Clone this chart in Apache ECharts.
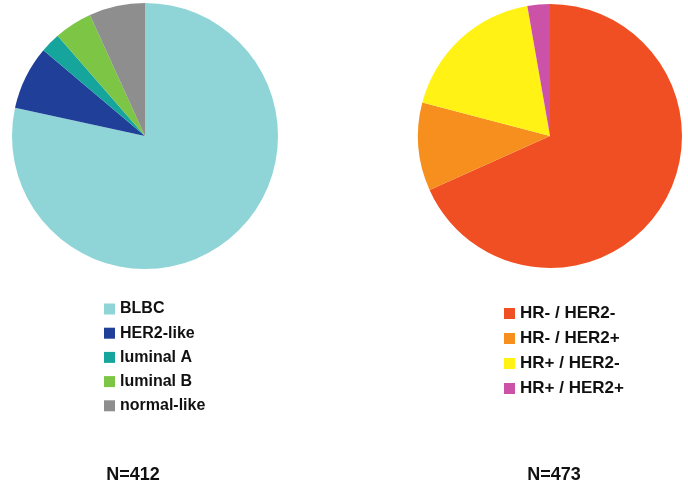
<!DOCTYPE html>
<html>
<head>
<meta charset="utf-8">
<script src="https://cdn.jsdelivr.net/npm/echarts@6/dist/echarts.min.js"></script>
<style>
  html, body { margin: 0; padding: 0; background: #fff; }
  #chart { width: 688px; height: 486px; }
</style>
</head>
<body>
<div id="chart"></div>
<script>
// left pie: PAM50 subtypes
var subtypeNames = ['BLBC', 'HER2-like', 'luminal A', 'luminal B', 'normal-like']
var subtypeCounts = [323, 32, 10, 19, 28]
var subtypeColors = ['#8fd4d7', '#1f3f99', '#16a59c', '#7dc545', '#8e8e8e']

// right pie: HR / HER2 status
var statusNames = ['HR- / HER2-', 'HR- / HER2+', 'HR+ / HER2-', 'HR+ / HER2+']
var statusCounts = [323, 51, 86, 13]
var statusColors = ['#f04f23', '#f78f1f', '#fff214', '#cc52a8']

var totals = ['N=412', 'N=473']

function toData(names, vals, cols) {
  return names.map(function (n, i) {
    return { name: n, value: vals[i], itemStyle: { color: cols[i] } }
  })
}

var font = 'Liberation Sans, Arial, sans-serif'
var chart = echarts.init(document.getElementById('chart'))
chart.setOption({
  animation: false,
  title: [
    { text: totals[0], left: 133, top: 466, padding: 0, textAlign: 'center',
      textStyle: { fontFamily: font, fontSize: 18, fontWeight: 'bold', color: '#111' } },
    { text: totals[1], left: 554, top: 466, padding: 0, textAlign: 'center',
      textStyle: { fontFamily: font, fontSize: 18, fontWeight: 'bold', color: '#111' } }
  ],
  legend: [
    {
      data: subtypeNames, orient: 'vertical', left: 99, top: 296,
      icon: 'rect', itemWidth: 11, itemHeight: 11, itemGap: 8.2,
      textStyle: { fontFamily: font, fontSize: 16, fontWeight: 'bold', color: '#111', lineHeight: 11 }
    },
    {
      data: statusNames, orient: 'vertical', left: 499, top: 300,
      icon: 'rect', itemWidth: 11, itemHeight: 11, itemGap: 8,
      textStyle: { fontFamily: font, fontSize: 17, fontWeight: 'bold', color: '#111', lineHeight: 11 }
    }
  ],
  series: [
    {
      type: 'pie', center: [145, 136], radius: [0, 133], startAngle: 90,
      label: { show: false }, labelLine: { show: false },
      data: toData(subtypeNames, subtypeCounts, subtypeColors)
    },
    {
      type: 'pie', center: [550, 136], radius: [0, 132], startAngle: 90,
      label: { show: false }, labelLine: { show: false },
      data: toData(statusNames, statusCounts, statusColors)
    }
  ]
})
</script>
</body>
</html>
